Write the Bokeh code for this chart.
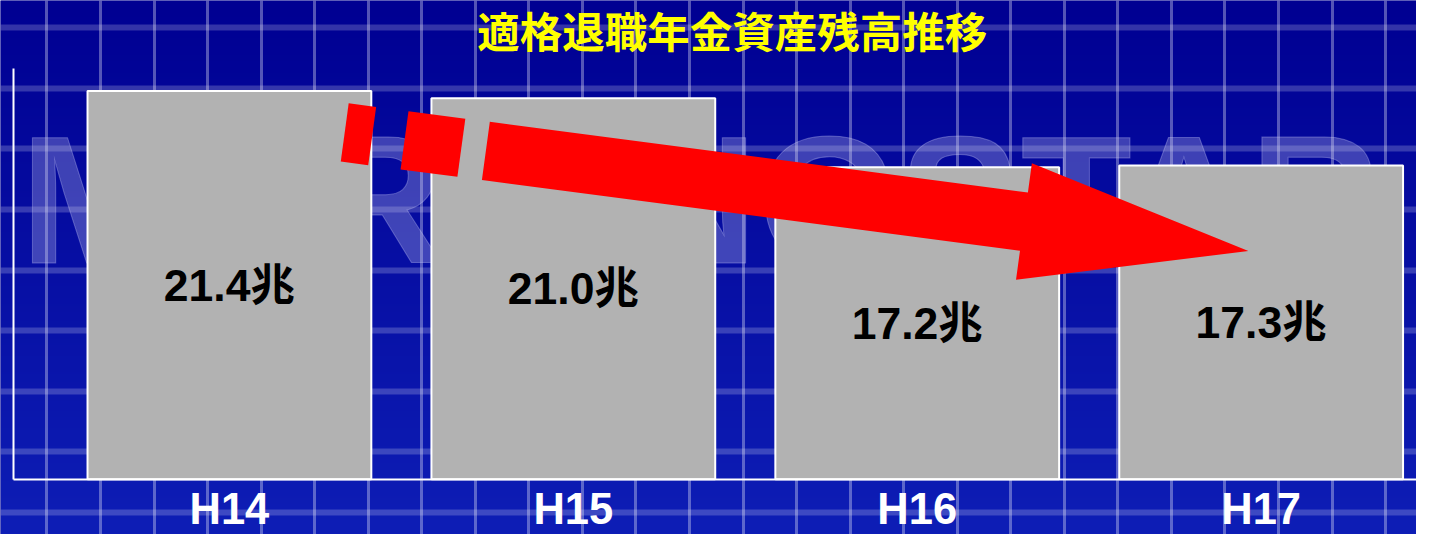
import math
import numpy as np
from bokeh.plotting import figure
from bokeh.models import FixedTicker, Label, Range1d
from bokeh.core.properties import value
from bokeh.embed import file_html
from bokeh.resources import INLINE

# ---------------- data ----------------
categories = ["H14", "H15", "H16", "H17"]
assets = [21.4, 21.0, 17.2, 17.3]          # 兆円
unit = "兆"
title_text = "適格退職年金資産残高推移"
watermark_text = "MORNINGSTAR"

# ---------------- layout helpers (reference pixels -> data) ----------------
W, H = 1416, 534
REF_W, REF_H = 1432, 550
K = W / REF_W            # font scale
PX_PER_CAT = 347.8       # reference pixels per category
PX_PER_UNIT = 18.68      # reference pixels per 1 兆
X0_PX = 231.5            # reference x of first category centre
BASE_PX = 493.0          # reference y (from top) of the baseline


def sx(px):
    return (px - X0_PX) / PX_PER_CAT


def sy(py):
    return (BASE_PX - py) / PX_PER_UNIT


def fs(px):
    return f"{px * K:.1f}px"


x_start, x_end = sx(0), sx(REF_W)
y_start, y_end = sy(REF_H), sy(0)

p = figure(width=W, height=H, x_range=Range1d(x_start, x_end),
           y_range=Range1d(y_start, y_end), output_backend="svg",
           toolbar_location=None, min_border=0, outline_line_color=None,
           border_fill_color="#00008e", background_fill_color="#00008e")

# ---------------- background gradient ----------------
n = 275
top_c = np.array([0, 0, 146], dtype=float)
bot_c = np.array([14, 30, 182], dtype=float)
t = np.linspace(0, 1, n)[:, None]          # row 0 = bottom
cols = bot_c * (1 - t) + top_c * t
img = np.zeros((n, 2), dtype=np.uint32)
view = img.view(dtype=np.uint8).reshape((n, 2, 4))
for c in range(3):
    view[:, :, c] = cols[:, c:c + 1].astype(np.uint8)
view[:, :, 3] = 255
p.image_rgba(image=[img], x=x_start, y=y_start, dw=x_end - x_start,
             dh=y_end - y_start, level="image")

# ---------------- background grid ----------------
p.xgrid.ticker = FixedTicker(ticks=[sx(47 + 54.15 * k) for k in range(26)])
p.ygrid.ticker = FixedTicker(ticks=[sy(28 + 62.4 * k) for k in range(9)])
p.xgrid.grid_line_color = "white"
p.xgrid.grid_line_alpha = 0.33
p.xgrid.grid_line_width = 3
p.ygrid.grid_line_color = "white"
p.ygrid.grid_line_alpha = 0.2
p.ygrid.grid_line_width = 6

# ---------------- watermark ----------------
p.text(x=[sx(20)], y=[sy(205)], text=[watermark_text],
       text_font=value("Liberation Sans"), text_font_size=fs(184),
       text_font_style="bold", text_color="#c8c8ee", text_alpha=0.3,
       text_outline_color="#d8d8ff",
       text_align="left", text_baseline="alphabetic")

# ---------------- bars ----------------
idx = list(range(len(categories)))
p.vbar(x=idx, top=assets, bottom=0, width=287 / PX_PER_CAT,
       fill_color="#b2b2b2", line_color="white", line_width=2)

# ---------------- red arrow (annotation) ----------------
tip = (1262.0, 258.0)
ang = math.atan2(103, 771)
ux, uy = math.cos(ang), math.sin(ang)
nx, ny = -uy, ux
L_TOTAL = 914.0


def C(s, off=0.0):
    cx = tip[0] - (L_TOTAL - s) * ux + off * nx
    cy = tip[1] - (L_TOTAL - s) * uy + off * ny
    return cx, cy


hw, hh = 30.25, 60.5
polys = []
for s0, s1 in [(-8, 20), (53, 111)]:
    polys.append([C(s0, -hw), C(s1, -hw), C(s1, hw), C(s0, hw)])
polys.append([C(136, -hw), C(685, -hw), C(685, -hh), tip, C(685, hh),
              C(685, hw), C(136, hw)])
xs = [[sx(a) for a, b in poly] for poly in polys]
ys = [[sy(b) for a, b in poly] for poly in polys]
p.patches(xs=xs, ys=ys, fill_color="#ff0000", line_color=None)

# ---------------- value labels ----------------
p.text(x=idx, y=[v / 2 for v in assets],
       text=[f"{v:.1f}{unit}" for v in assets],
       text_align="center", text_baseline="middle",
       text_font=value("Liberation Sans, Noto Sans CJK JP"),
       text_font_size=fs(45), text_font_style="bold", text_color="black")

# ---------------- title ----------------
p.add_layout(Label(x=sx(740), y=sy(30), text=title_text,
                   text_align="center", text_baseline="middle",
                   text_font="Noto Sans CJK JP", text_font_size=fs(43),
                   text_font_style="bold", text_color="#ffff00"))

# ---------------- axes ----------------
xa = p.xaxis[0]
xa.ticker = FixedTicker(ticks=idx)
xa.major_label_overrides = {i: c for i, c in enumerate(categories)}
xa.fixed_location = 0
xa.bounds = (sx(13), x_end)
xa.axis_line_color = "white"
xa.axis_line_width = 2
xa.major_tick_line_color = None
xa.minor_tick_line_color = None
xa.major_label_standoff = 0
xa.major_label_text_color = "white"
xa.major_label_text_font = "Liberation Sans"
xa.major_label_text_font_size = fs(44)
xa.major_label_text_font_style = "bold"

ya = p.yaxis[0]
ya.fixed_location = sx(13)
ya.bounds = (0, sy(70))
ya.axis_line_color = "white"
ya.axis_line_width = 2
ya.major_tick_line_color = None
ya.minor_tick_line_color = None
ya.major_label_text_color = None
ya.major_label_text_font_size = "0px"

open("out.html", "w").write(file_html(p, INLINE))
